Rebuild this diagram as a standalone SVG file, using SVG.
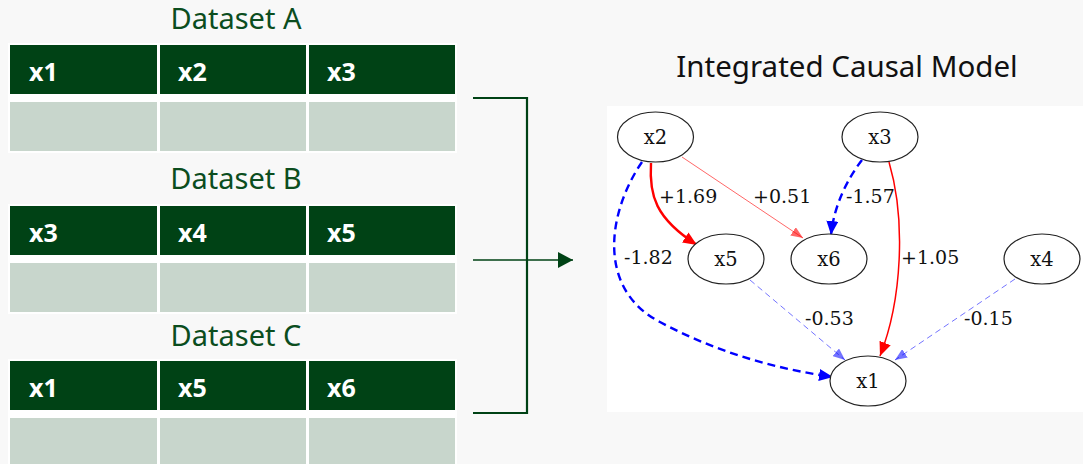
<svg xmlns="http://www.w3.org/2000/svg" width="1083" height="464" viewBox="0 0 1083 464">
<style>
.bg{fill:#f8f8f8}
.tbl{fill:#ffffff}
.hd{fill:#004215}
.cl{fill:#c8d6cc}
.ttl{font-family:"Noto Sans",sans-serif;font-size:29px;fill:#0b4d1e;text-anchor:middle}
.ht{font-family:"Noto Sans",sans-serif;font-weight:bold;font-size:25px;fill:#ffffff}
.gt{font-family:"Noto Sans",sans-serif;font-size:29.5px;fill:#111111;text-anchor:middle}
.node ellipse{fill:#ffffff;stroke:#222222;stroke-width:1.2}
.node text{font-family:"DejaVu Serif",serif;font-size:19.5px;fill:#111111;text-anchor:middle}
.lbl{font-family:"DejaVu Serif",serif;font-size:19px;fill:#111111}
.e{fill:none}
</style>
<defs>
<marker id="ar" markerUnits="userSpaceOnUse" markerWidth="16" markerHeight="12" refX="14" refY="6" orient="auto"><path d="M0,0 L14,6 L0,12 z" fill="#ff0000"/></marker>
<marker id="arl" markerUnits="userSpaceOnUse" markerWidth="14" markerHeight="10" refX="12" refY="5" orient="auto"><path d="M0,0 L12,5 L0,10 z" fill="#ff0000" fill-opacity="0.6"/></marker>
<marker id="ab" markerUnits="userSpaceOnUse" markerWidth="16" markerHeight="12" refX="14" refY="6" orient="auto"><path d="M0,0 L14,6 L0,12 z" fill="#0000ff"/></marker>
<marker id="abl" markerUnits="userSpaceOnUse" markerWidth="14" markerHeight="10" refX="12" refY="5" orient="auto"><path d="M0,0 L12,5 L0,10 z" fill="#0000ff" fill-opacity="0.55"/></marker>
<marker id="ag" markerUnits="userSpaceOnUse" markerWidth="16" markerHeight="16" refX="15" refY="8" orient="auto"><path d="M0,0 L15,8 L0,16 z" fill="#004215"/></marker>
</defs>
<rect class="bg" x="0" y="0" width="1083" height="464"/>

<g id="datasetA">
<text class="ttl" x="236" y="29">Dataset A</text>
<rect class="tbl" x="8" y="43" width="449" height="110"/>
<rect class="hd" x="10" y="45" width="147" height="49"/>
<rect class="hd" x="160" y="45" width="146" height="49"/>
<rect class="hd" x="309" y="45" width="146" height="49"/>
<rect class="cl" x="10" y="102" width="147" height="49"/>
<rect class="cl" x="160" y="102" width="146" height="49"/>
<rect class="cl" x="309" y="102" width="146" height="49"/>
<text class="ht" x="29" y="81">x1</text>
<text class="ht" x="178" y="81">x2</text>
<text class="ht" x="327" y="81">x3</text>
</g>

<g id="datasetB">
<text class="ttl" x="236" y="189">Dataset B</text>
<rect class="tbl" x="8" y="204" width="449" height="110"/>
<rect class="hd" x="10" y="206" width="147" height="49"/>
<rect class="hd" x="160" y="206" width="146" height="49"/>
<rect class="hd" x="309" y="206" width="146" height="49"/>
<rect class="cl" x="10" y="263" width="147" height="49"/>
<rect class="cl" x="160" y="263" width="146" height="49"/>
<rect class="cl" x="309" y="263" width="146" height="49"/>
<text class="ht" x="29" y="242">x3</text>
<text class="ht" x="178" y="242">x4</text>
<text class="ht" x="327" y="242">x5</text>
</g>

<g id="datasetC">
<text class="ttl" x="236" y="346">Dataset C</text>
<rect class="tbl" x="8" y="359" width="449" height="110"/>
<rect class="hd" x="10" y="361" width="147" height="49"/>
<rect class="hd" x="160" y="361" width="146" height="49"/>
<rect class="hd" x="309" y="361" width="146" height="49"/>
<rect class="cl" x="10" y="418" width="147" height="49"/>
<rect class="cl" x="160" y="418" width="146" height="49"/>
<rect class="cl" x="309" y="418" width="146" height="49"/>
<text class="ht" x="29" y="397">x1</text>
<text class="ht" x="178" y="397">x5</text>
<text class="ht" x="327" y="397">x6</text>
</g>

<g id="merge">
<path d="M473,98 H527 V413 H473" fill="none" stroke="#004215" stroke-width="2.2"/>
<path d="M473,260 H573" fill="none" stroke="#004215" stroke-width="1.4" marker-end="url(#ag)"/>
</g>

<text class="gt" x="847" y="77">Integrated Causal Model</text>
<rect id="panel" x="607" y="106" width="476" height="306" fill="#ffffff"/>

<g id="connectors">
<path class="e" d="M651,163 C649,195 655,218 697,245" stroke="#ff0000" stroke-width="2.4" marker-end="url(#ar)"/>
<path class="e" d="M682,157 L803,238" stroke="#ff0000" stroke-opacity="0.6" stroke-width="1" marker-end="url(#arl)"/>
<path class="e" d="M862,160 C848,178 834,205 831,235" stroke="#0000ff" stroke-width="2.4" stroke-dasharray="8,5" marker-end="url(#ab)"/>
<path class="e" d="M889,162 C906,220 902,300 880,356" stroke="#ff0000" stroke-width="1.5" marker-end="url(#ar)"/>
<path class="e" d="M642,162 C606,215 598,290 660,322 C712,350 770,368 833,377" stroke="#0000ff" stroke-width="2.4" stroke-dasharray="8,5" marker-end="url(#ab)"/>
<path class="e" d="M750,280 L845,360" stroke="#0000ff" stroke-opacity="0.55" stroke-width="1" stroke-dasharray="6,4" marker-end="url(#abl)"/>
<path class="e" d="M1015,279 L895,360" stroke="#0000ff" stroke-opacity="0.55" stroke-width="1" stroke-dasharray="6,4" marker-end="url(#abl)"/>
<text class="lbl" x="659" y="203">+1.69</text>
<text class="lbl" x="753" y="203">+0.51</text>
<text class="lbl" x="846" y="203">-1.57</text>
<text class="lbl" x="624" y="264">-1.82</text>
<text class="lbl" x="901" y="264">+1.05</text>
<text class="lbl" x="805" y="325">-0.53</text>
<text class="lbl" x="964" y="325">-0.15</text>
</g>

<g id="n_x2" class="node"><ellipse cx="655.5" cy="137" rx="38" ry="25"/><text x="655.5" y="144">x2</text></g>
<g id="n_x3" class="node"><ellipse cx="880" cy="137" rx="38" ry="25"/><text x="880" y="144">x3</text></g>
<g id="n_x5" class="node"><ellipse cx="726" cy="259" rx="38" ry="25"/><text x="726" y="266">x5</text></g>
<g id="n_x6" class="node"><ellipse cx="829" cy="259" rx="38" ry="25"/><text x="829" y="266">x6</text></g>
<g id="n_x4" class="node"><ellipse cx="1042" cy="259" rx="38" ry="25"/><text x="1042" y="266">x4</text></g>
<g id="n_x1" class="node"><ellipse cx="868" cy="381" rx="38" ry="25"/><text x="868" y="388">x1</text></g>
</svg>
